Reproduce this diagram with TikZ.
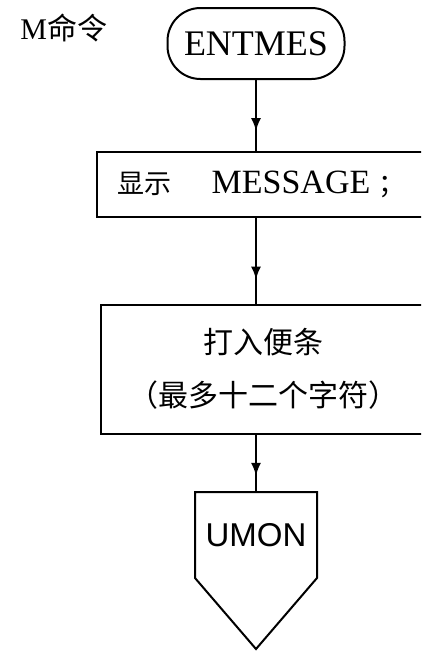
\documentclass[tikz,border=0pt]{standalone}
\usepackage{fontspec}
\setmainfont{Liberation Serif}
\newfontfamily\cjk{Noto Sans CJK SC}
\newfontfamily\umonfont{Liberation Sans}
\usetikzlibrary{arrows.meta,decorations.markings}

\begin{document}
\begin{tikzpicture}[
  x=1pt,y=-1pt,
  line width=2pt,
  % start terminal, rounded at both ends
  term/.style={draw,rounded corners=33pt,minimum width=177pt,minimum height=71pt,
               inner sep=0pt,font=\fontsize{36}{38}\selectfont},
  proc/.style={draw,inner sep=0pt,align=center},
  flow/.style={postaction={decorate},
               decoration={markings,mark=at position 0.72 with {\arrow{Latex[length=13pt,width=10pt]}}}},
]
\useasboundingbox (0,0) rectangle (421,651);
\clip (0,0) rectangle (421,651);

% ------------------------------------------------------------------ title
\node[anchor=west,font=\fontsize{30}{32}\selectfont] (title) at (16,28) {M{\cjk 命令}};

% ------------------------------------------------------------------ main column
\node[term] (entmes) at (256,43.5) {ENTMES};
\node[proc,minimum width=329pt,minimum height=65pt,font=\fontsize{34}{36}\selectfont]
      (show) at (261.5,184.5)
      {{\cjk\fontsize{27}{30}\selectfont 显示}\hspace{40pt}MESSAGE\hspace{8pt}{\cjk\fontsize{27}{30}\selectfont ；}};
\node[proc,minimum width=325pt,minimum height=129pt,font=\cjk\fontsize{30}{53}\selectfont]
      (note) at (263.5,369) {打入便条\\（最多十二个字符）};
\node[inner sep=0pt,minimum width=120pt,minimum height=84pt,font=\umonfont\fontsize{33}{36}\selectfont]
      (umon) at (256,535) {UMON};

% off-page connector outline
\draw (umon.north west) -- (umon.north east) -- (umon.south east)
      -- ([yshift=-71pt]umon.south) -- (umon.south west) -- cycle;

% ------------------------------------------------------------------ flow
\draw[flow] (entmes.south) -- (entmes.south |- show.north);
\draw[flow] (show.south -| entmes) -- (note.north -| entmes);
\draw[flow] (note.south -| entmes) -- (umon.north -| entmes);

\end{tikzpicture}
\end{document}
